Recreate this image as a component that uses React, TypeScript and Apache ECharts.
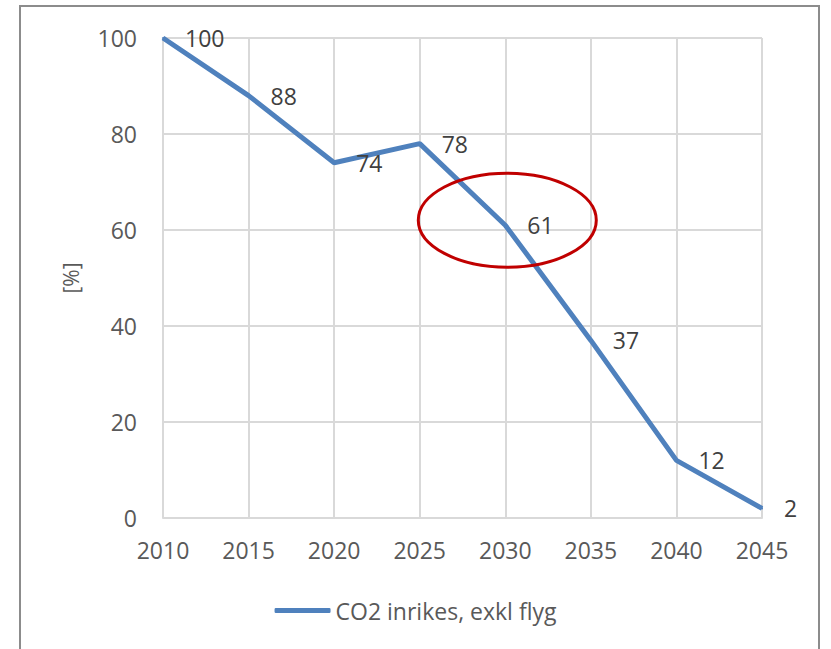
import React, { useEffect, useRef } from "react";
import * as echarts from "echarts";

const years = [2010, 2015, 2020, 2025, 2030, 2035, 2040, 2045];
const values = [100, 88, 74, 78, 61, 37, 12, 2];
const seriesName = "CO2 inrikes, exkl flyg";
const yAxisName = "[%]";
const highlightYear = 2030;
const highlightValue = 61;

export default function App() {
  const ref = useRef<HTMLDivElement>(null);
  useEffect(() => {
    if (!ref.current) return;
    const chart = echarts.init(ref.current, undefined, { renderer: "svg" });
    const font = "'Open Sans', 'Noto Sans', sans-serif";
    chart.setOption({
      animation: false,
      backgroundColor: "#ffffff",
      grid: { left: 163, right: 69, top: 38, bottom: 131 },
      legend: {
        bottom: 22,
        left: "center",
        itemWidth: 56,
        itemHeight: 5,
        itemGap: 4,
        textStyle: { color: "#595959", fontSize: 23, fontFamily: font },
        data: [{ name: seriesName, icon: "roundRect", itemStyle: { color: "#4F81BD", opacity: 1 } }],
      },
      xAxis: {
        type: "value",
        min: 2010,
        max: 2045,
        interval: 5,
        axisLine: { show: true, lineStyle: { color: "#D9D9D9", width: 2 } },
        axisTick: { show: false },
        splitLine: { show: true, lineStyle: { color: "#D9D9D9", width: 2 } },
        axisLabel: {
          color: "#595959",
          fontSize: 23,
          fontFamily: font,
          margin: 20,
          formatter: (v: number) => String(v),
        },
      },
      yAxis: {
        type: "value",
        min: 0,
        max: 100,
        interval: 20,
        name: yAxisName,
        nameLocation: "middle",
        nameGap: 82,
        nameRotate: 90,
        nameTextStyle: { color: "#595959", fontSize: 21, fontFamily: font },
        axisLine: { show: false },
        axisTick: { show: false },
        splitLine: { show: true, lineStyle: { color: "#D9D9D9", width: 2 } },
        axisLabel: { color: "#595959", fontSize: 23, fontFamily: font, margin: 26 },
      },
      series: [
        {
          name: seriesName,
          type: "line",
          data: years.map((y, i) => [y, values[i]]),
          showSymbol: true,
          symbol: "circle",
          symbolSize: 2,
          lineStyle: { color: "#4F81BD", width: 5 },
          itemStyle: { color: "#4F81BD" },
          label: {
            show: true,
            position: "right",
            distance: 21,
            color: "#404040",
            fontSize: 23,
            fontFamily: font,
            formatter: (p: any) => String(p.value[1]),
          },
        },
      ],
    });
    const c = chart.convertToPixel({ gridIndex: 0 }, [highlightYear, highlightValue]) as number[];
    chart.setOption({
      graphic: [
        {
          type: "rect",
          shape: { x: 20, y: 6, width: 799, height: 700 },
          style: { fill: "none", stroke: "#8C8C8C", lineWidth: 2 },
          silent: true,
        },
        {
          type: "ellipse",
          shape: { cx: c[0] + 2, cy: c[1] - 5, rx: 89, ry: 47 },
          style: { fill: "none", stroke: "#C00000", lineWidth: 3 },
          silent: true,
          z: 100,
        },
      ],
    });
    return () => chart.dispose();
  }, []);
  return (
    <div
      ref={ref}
      style={{ position: "fixed", left: 0, top: 0, width: 831, height: 649 }}
    />
  );
}
